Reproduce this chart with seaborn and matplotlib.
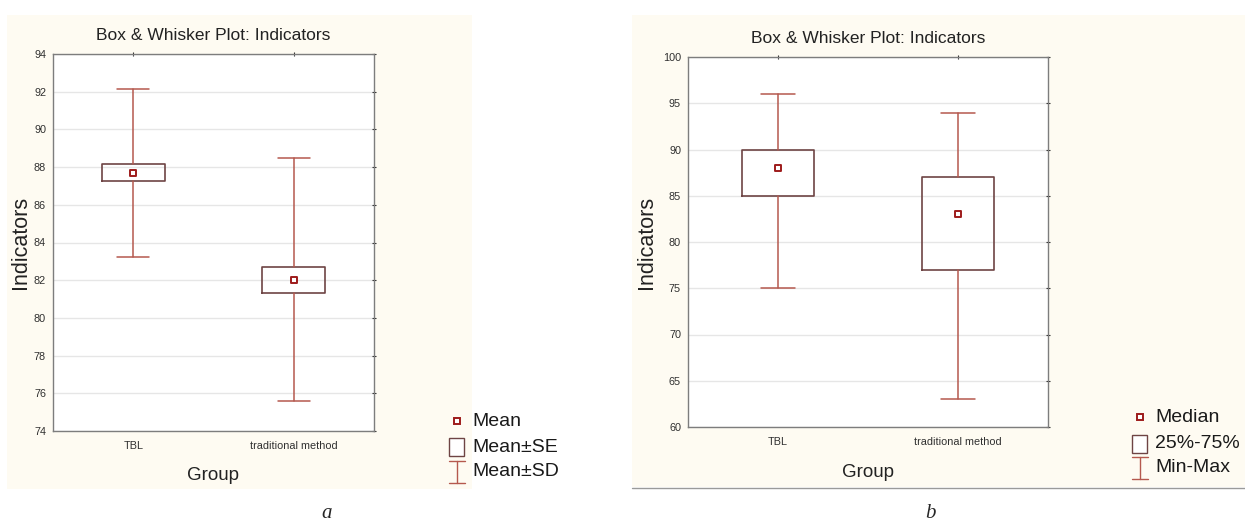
import numpy as np
import matplotlib
matplotlib.use("Agg")
import matplotlib.pyplot as plt
import seaborn as sns
from matplotlib.patches import Rectangle
from matplotlib.lines import Line2D

# Data
groups = ["TBL", "traditional method"]

# panel a: mean, mean +/- SE, mean +/- SD
a_mean = [87.67, 82.0]
a_se_lo = [87.26, 81.3]
a_se_hi = [88.15, 82.72]
a_sd_lo = [83.25, 75.57]
a_sd_hi = [92.16, 88.48]

# panel b: median, quartiles, min-max
b_median = [88, 83]
b_q1 = [85, 77]
b_q3 = [90, 87]
b_min = [75, 63]
b_max = [96, 94]

sns.set_style("white")
plt.rcParams['font.family'] = ['Liberation Sans', 'DejaVu Sans']

BG = "#fefbf2"
WHISK = "#b5594e"
BOXC = "#6e4444"
MARK = "#9e1b1b"
W, H = 1245, 523

fig = plt.figure(figsize=(W / 100, H / 100), dpi=100)
fig.patch.set_facecolor("white")


def fx(px):
    return px / W


def fy(py):
    return 1 - py / H


# cream backgrounds
fig.add_artist(Rectangle((fx(7), fy(489)), fx(472) - fx(7), fy(15) - fy(489),
                         transform=fig.transFigure, facecolor=BG, edgecolor="none", zorder=0))
fig.add_artist(Rectangle((fx(632), fy(487)), fx(1245) - fx(632), fy(15) - fy(487),
                         transform=fig.transFigure, facecolor=BG, edgecolor="none", zorder=0))
fig.add_artist(Line2D([fx(632), fx(1245)], [fy(487.5), fy(487.5)], transform=fig.transFigure,
                      color="#9a9a9a", lw=1.0))


def draw_panel(ax, centers, lo_box, hi_box, lo_wh, hi_wh, ymin, ymax, yticks, boxw, capw,
               xpad, ylab_x):
    stats = []
    for i in range(len(groups)):
        stats.append(dict(med=centers[i], q1=lo_box[i], q3=hi_box[i],
                          whislo=lo_wh[i], whishi=hi_wh[i], fliers=[]))
    ax.bxp(stats, positions=[0, 1], widths=boxw, showfliers=False,
           boxprops=dict(color=BOXC, lw=1.2),
           whiskerprops=dict(color=WHISK, lw=1.1),
           capprops=dict(color=WHISK, lw=1.1),
           medianprops=dict(lw=0), capwidths=capw, manage_ticks=False)
    sns.scatterplot(x=[0, 1], y=centers, marker="s", s=20, color="white",
                    edgecolor=MARK, linewidth=1.4, ax=ax, zorder=5)
    ax.set_xlim(-0.5, 1.5)
    ax.set_ylim(ymin, ymax)
    ax.set_yticks(yticks)
    ax.set_xticks([0, 1])
    ax.set_xticklabels(groups)
    ax.set_facecolor("white")
    ax.grid(axis="y", color="#e6e6e6", lw=1.0)
    ax.set_axisbelow(True)
    for s in ax.spines.values():
        s.set_color("#7d7d7d")
        s.set_linewidth(1.0)
    ax.tick_params(axis="both", labelsize=7.8, colors="#303030", length=3, width=0.8,
                   top=True, right=True, direction="inout")
    ax.tick_params(axis="x", pad=6)
    ax.set_title("Box & Whisker Plot: Indicators", fontsize=12.5, color="#222222", pad=10)
    ax.set_xlabel("Group", fontsize=13.5, color="#222222", labelpad=xpad)
    ax.set_ylabel("Indicators", fontsize=15.5, color="#222222")
    ax.yaxis.set_label_coords(ylab_x, 0.5)


ax_a = fig.add_axes([fx(53), fy(431), fx(374) - fx(53), fy(54) - fy(431)])
draw_panel(ax_a, a_mean, a_se_lo, a_se_hi, a_sd_lo, a_sd_hi,
           74, 94, np.arange(74, 95, 2), 0.39, 0.2, 11, -0.069)

ax_b = fig.add_axes([fx(688), fy(427), fx(1048) - fx(688), fy(57) - fy(427)])
draw_panel(ax_b, b_median, b_q1, b_q3, b_min, b_max,
           60, 100, np.arange(60, 101, 5), 0.4, 0.19, 12, -0.086)


def legend(x0, ys, labels):
    # square marker, box, I-beam
    fig.add_artist(Line2D([fx(x0 + 8)], [fy(ys[0])], transform=fig.transFigure, marker="s",
                          markersize=5, markerfacecolor="white", markeredgecolor=MARK,
                          markeredgewidth=1.4, ls="none"))
    fig.add_artist(Rectangle((fx(x0), fy(ys[1] + 9)), fx(15), fy(0) - fy(18),
                             transform=fig.transFigure, facecolor="white",
                             edgecolor=BOXC, lw=1.0))
    xs = [fx(x0 + 8), fx(x0 + 8)]
    fig.add_artist(Line2D(xs, [fy(ys[2] - 10), fy(ys[2] + 12)], transform=fig.transFigure,
                          color=WHISK, lw=1.0))
    for yy in (ys[2] - 10, ys[2] + 12):
        fig.add_artist(Line2D([fx(x0), fx(x0 + 16)], [fy(yy), fy(yy)],
                              transform=fig.transFigure, color=WHISK, lw=1.0))
    for yy, lab in zip(ys, labels):
        fig.text(fx(x0 + 23), fy(yy), lab, fontsize=14, color="#1a1a1a",
                 ha="left", va="center")


legend(449, [421, 447, 471], ["Mean", "Mean\u00b1SE", "Mean\u00b1SD"])
legend(1132, [417, 444, 467], ["Median", "25%-75%", "Min-Max"])

fig.text(fx(327), fy(514), "a", fontsize=15, family="Liberation Serif", style="italic",
         ha="center", va="center")
fig.text(fx(930), fy(514), "b", fontsize=15, family="Liberation Serif", style="italic",
         ha="center", va="center")

fig.savefig("out.png", dpi=100, facecolor=fig.get_facecolor())
